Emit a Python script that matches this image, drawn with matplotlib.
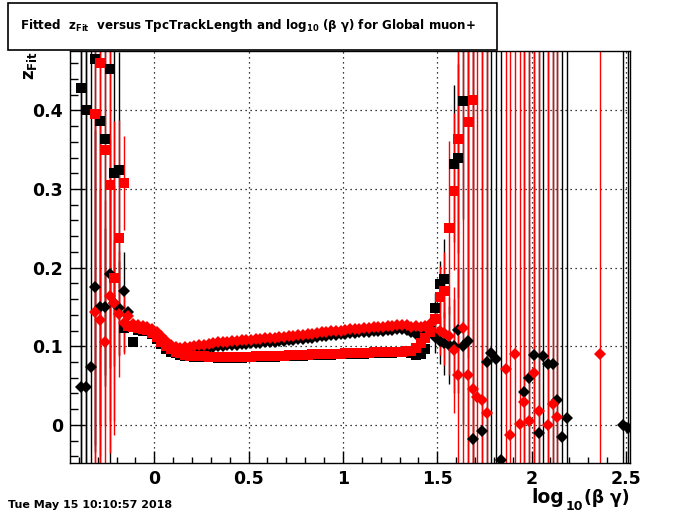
import numpy as np
import matplotlib
matplotlib.use("Agg")
import matplotlib.pyplot as plt
from matplotlib.ticker import MultipleLocator, FuncFormatter
from matplotlib.patches import Rectangle

plt.rcParams['font.family'] = ['DejaVu Sans']
plt.rcParams['mathtext.fontset'] = 'dejavusans'

# bin centres of the dense middle part (bin width 0.025)
band_x = np.arange(-0.1375, 1.47, 0.025)

# lower band (squares) in the middle region
red_sq_band = [0.126, 0.124, 0.123, 0.122, 0.121, 0.117, 0.112, 0.106, 0.100, 0.096,
               0.093, 0.091, 0.089, 0.088, 0.0875, 0.087, 0.087, 0.0868, 0.0868, 0.0866,
               0.0866, 0.0866, 0.0866, 0.0866, 0.0866, 0.0868, 0.0868, 0.0870, 0.0872, 0.0874,
               0.0876, 0.0878, 0.0880, 0.0882, 0.0885, 0.0887, 0.0889, 0.0891, 0.0893, 0.0895,
               0.0897, 0.0899, 0.0901, 0.0903, 0.0905, 0.0907, 0.0909, 0.0911, 0.0913, 0.0915,
               0.0917, 0.0919, 0.0921, 0.0923, 0.0925, 0.0927, 0.0929, 0.0931, 0.0933, 0.0935,
               0.0940, 0.0980, 0.1040, 0.1100, 0.1180]
black_sq_band = [0.124, 0.105, 0.121, 0.120, 0.119, 0.115, 0.109, 0.103, 0.097, 0.093,
                 0.091, 0.089, 0.088, 0.087, 0.0865, 0.086, 0.086, 0.0858, 0.0858, 0.0856,
                 0.0856, 0.0856, 0.0856, 0.0856, 0.0856, 0.0858, 0.0858, 0.0860, 0.0862, 0.0864,
                 0.0866, 0.0868, 0.0870, 0.0872, 0.0875, 0.0877, 0.0879, 0.0881, 0.0883, 0.0885,
                 0.0887, 0.0889, 0.0891, 0.0893, 0.0895, 0.0897, 0.0899, 0.0901, 0.0903, 0.0905,
                 0.0907, 0.0909, 0.0911, 0.0913, 0.0915, 0.0917, 0.0919, 0.0921, 0.0923, 0.0925,
                 0.0910, 0.0890, 0.0900, 0.0970, 0.1200]

# upper band (diamonds) in the middle region
red_di_band = [0.1385, 0.128, 0.127, 0.126, 0.125, 0.122, 0.118, 0.113, 0.107, 0.102,
               0.099, 0.098, 0.0985, 0.0995, 0.1003, 0.101, 0.102, 0.103, 0.104, 0.105,
               0.1055, 0.106, 0.1065, 0.107, 0.1075, 0.108, 0.1085, 0.109, 0.1095, 0.110,
               0.1105, 0.111, 0.1115, 0.112, 0.1128, 0.1135, 0.114, 0.1148, 0.1155, 0.116,
               0.1168, 0.1175, 0.118, 0.1188, 0.1195, 0.120, 0.1207, 0.1213, 0.122, 0.1225,
               0.123, 0.1235, 0.124, 0.1245, 0.125, 0.1255, 0.126, 0.1265, 0.127, 0.1265,
               0.125, 0.1255, 0.124, 0.126, 0.128]
black_di_band = [0.144, 0.126, 0.125, 0.124, 0.123, 0.120, 0.115, 0.110, 0.103, 0.098,
                 0.095, 0.093, 0.093, 0.094, 0.095, 0.096, 0.097, 0.098, 0.099, 0.100,
                 0.1005, 0.101, 0.1015, 0.102, 0.1025, 0.103, 0.1035, 0.104, 0.1045, 0.105,
                 0.1055, 0.106, 0.1065, 0.107, 0.1078, 0.1085, 0.109, 0.1098, 0.1105, 0.111,
                 0.1118, 0.1125, 0.113, 0.1138, 0.1145, 0.115, 0.1157, 0.1163, 0.117, 0.1175,
                 0.118, 0.1185, 0.119, 0.1195, 0.120, 0.1205, 0.121, 0.1215, 0.122, 0.121,
                 0.118, 0.115, 0.113, 0.118, 0.121]

# sparse points at low and high log10(beta gamma)
black_sq_x = [-0.3875, -0.3625, -0.3125, -0.2875, -0.2625, -0.2375, -0.2125, -0.1875, -0.1625,
              1.4875, 1.5125, 1.5375, 1.5875, 1.6125, 1.6375]
black_sq_y = [0.429, 0.400, 0.465, 0.386, 0.364, 0.452, 0.320, 0.324, 0.123,
              0.148, 0.179, 0.186, 0.332, 0.339, 0.412]
black_sq_err = [0.6, 0.6, 0.5, 0.5, 0.3, 0.5, 0.18, 0.15, 0.03,
                0.02, 0.03, 0.05, 0.10, 0.12, 0.15]

red_sq_x = [-0.3125, -0.2875, -0.2625, -0.2375, -0.2125, -0.1875, -0.1625,
            1.4875, 1.5125, 1.5375, 1.5625, 1.5875, 1.6125, 1.6625, 1.6875]
red_sq_y = [0.395, 0.460, 0.349, 0.305, 0.187, 0.238, 0.308,
            0.135, 0.162, 0.170, 0.251, 0.297, 0.363, 0.385, 0.413]
red_sq_err = [0.5, 0.5, 0.35, 0.3, 0.2, 0.15, 0.06,
              0.02, 0.04, 0.05, 0.11, 0.10, 0.20, 0.30, 0.50]

black_di_x = [-0.3875, -0.3625, -0.3375, -0.3125, -0.2875, -0.2625, -0.2375, -0.2125, -0.1875, -0.1625,
              1.4875, 1.5125, 1.5375, 1.5625, 1.5875, 1.6125, 1.6375, 1.6625, 1.6875, 1.7375,
              1.7625, 1.7875, 1.8125, 1.8375, 1.9625, 1.9875, 2.0125, 2.0375, 2.0625, 2.0875,
              2.1125, 2.1375, 2.1625, 2.1875, 2.4875, 2.5125]
black_di_y = [0.048, 0.048, 0.0735, 0.175, 0.150, 0.150, 0.192, 0.155, 0.149, 0.170,
              0.112, 0.107, 0.104, 0.1017, 0.100, 0.121, 0.100, 0.107, -0.018, -0.0076,
              0.080, 0.091, 0.0835, -0.0445, 0.0415, 0.059, 0.089, -0.0106, 0.0877, 0.078,
              0.078, 0.032, -0.015, 0.0085, 0.0, -0.004]
black_di_err = [0.6, 0.6, 0.6, 0.2, 0.15, 0.10, 0.12, 0.08, 0.06, 0.05,
                0.02, 0.03, 0.04, 0.05, 0.06, 0.08, 0.10, 0.6, 0.6, 0.6,
                0.6, 0.6, 0.6, 0.6, 0.6, 0.6, 0.6, 0.6, 0.6, 0.6,
                0.6, 0.6, 0.6, 0.6, 0.6, 0.6]

red_di_x = [-0.3125, -0.2875, -0.2625, -0.2375, -0.2125, -0.1875, -0.1625,
            1.4875, 1.5125, 1.5375, 1.5625, 1.5875, 1.6125, 1.6375, 1.6625, 1.6875, 1.7125,
            1.7375, 1.7625, 1.8625, 1.8875, 1.9125, 1.9375, 1.9625, 1.9875, 2.0125, 2.0375,
            2.0875, 2.1125, 2.1375, 2.3625]
red_di_y = [0.144, 0.134, 0.106, 0.164, 0.155, 0.141, 0.130,
            0.133, 0.119, 0.1165, 0.113, 0.095, 0.0635, 0.123, 0.064, 0.045, 0.036,
            0.032, 0.015, 0.071, -0.0135, 0.090, 0.001, 0.029, 0.005, 0.066, 0.018,
            0.0, 0.026, 0.010, 0.090]
red_di_err = [0.25, 0.25, 0.18, 0.20, 0.15, 0.08, 0.04,
              0.02, 0.03, 0.04, 0.05, 0.08, 0.6, 0.6, 0.6, 0.6, 0.6,
              0.6, 0.6, 0.6, 0.6, 0.6, 0.6, 0.6, 0.6, 0.6, 0.6,
              0.6, 0.6, 0.6, 0.6]

band_err = 0.002

fig = plt.figure(figsize=(7, 5.14), dpi=100)
ax = fig.add_axes([0.1, 0.1, 0.8, 0.8])

def draw(x, y, err, color, marker, ms):
    ax.errorbar(x, y, yerr=err, fmt=marker, color=color, ms=ms, mew=0,
                elinewidth=1, capsize=0, clip_on=True)

draw(band_x, black_sq_band, band_err, 'black', 's', 6.5)
draw(black_sq_x, black_sq_y, black_sq_err, 'black', 's', 6.5)
draw(band_x, black_di_band, band_err, 'black', 'D', 6)
draw(black_di_x, black_di_y, black_di_err, 'black', 'D', 6)
draw(band_x, red_sq_band, band_err, 'red', 's', 6.5)
draw(red_sq_x, red_sq_y, red_sq_err, 'red', 's', 6.5)
draw(band_x, red_di_band, band_err, 'red', 'D', 6)
draw(red_di_x, red_di_y, red_di_err, 'red', 'D', 6)

ax.set_xlim(-0.447, 2.522)
ax.set_ylim(-0.048, 0.475)

ax.xaxis.set_major_locator(MultipleLocator(0.5))
ax.xaxis.set_minor_locator(MultipleLocator(0.1))
ax.yaxis.set_major_locator(MultipleLocator(0.1))
ax.yaxis.set_minor_locator(MultipleLocator(0.02))
fmt = FuncFormatter(lambda v, p: '%g' % round(v, 3))
ax.xaxis.set_major_formatter(fmt)
ax.yaxis.set_major_formatter(fmt)
ax.tick_params(axis='x', which='major', direction='in', length=8.6, width=1, pad=5)
ax.tick_params(axis='x', which='minor', direction='in', length=4.3, width=1)
ax.tick_params(axis='y', which='major', direction='in', length=11, width=1, pad=5)
ax.tick_params(axis='y', which='minor', direction='in', length=5.5, width=1)
for lab in ax.get_xticklabels() + ax.get_yticklabels():
    lab.set_fontsize(12.5)
    lab.set_fontweight('bold')
ax.grid(True, which='major', linestyle=(0, (1, 3)), color='black', linewidth=0.9)
for s in ax.spines.values():
    s.set_linewidth(1)

# title box
fig.patches.append(Rectangle((0.0114, 0.9027), 0.6986, 0.0913, transform=fig.transFigure,
                             facecolor='white', edgecolor='black', linewidth=1.2))
fig.text(0.355, 0.951, r'Fitted  z$_{\mathbf{Fit}}$  versus TpcTrackLength and log$_{\mathbf{10}}$ (β γ) for Global muon+',
         ha='center', va='center', fontsize=8.6, fontweight='bold')

# y axis title, rotated, top left
fig.text(0.043, 0.9, r'z$_{\mathbf{Fit}}$', rotation=90, ha='center', va='top',
         fontsize=12, fontweight='bold')

# x axis title pieces (ROOT puts the subscript low)
W, H = 700.0, 514.0
fig.text(531 / W, 1 - 503 / H, 'log', ha='left', va='baseline',
         fontsize=13.5, fontweight='bold')
fig.text(566 / W, 1 - 510 / H, '10', ha='left', va='baseline',
         fontsize=9, fontweight='bold')
fig.text(630 / W, 1 - 503 / H, '(β γ)', ha='right', va='baseline',
         fontsize=12.3, fontweight='bold')

fig.text(0.011, 1 - 508 / H, 'Tue May 15 10:10:57 2018', ha='left', va='baseline',
         fontsize=8, fontweight='bold')

fig.savefig('out.png', dpi=100)
